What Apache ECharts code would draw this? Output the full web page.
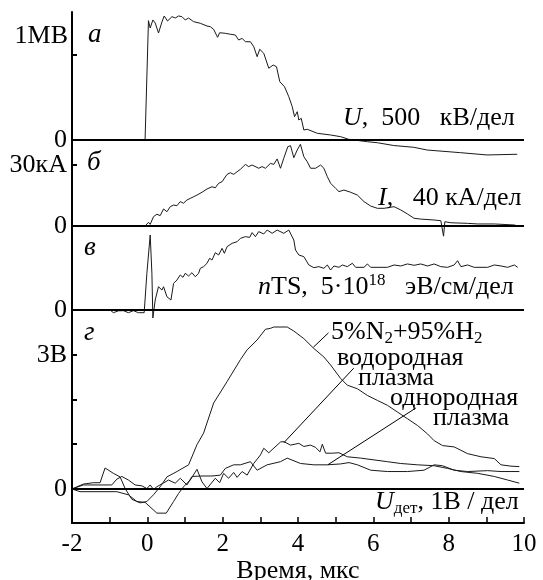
<!DOCTYPE html>
<html>
<head>
<meta charset="utf-8">
<script src="https://cdn.jsdelivr.net/npm/echarts@6/dist/echarts.min.js"></script>
<style>
html,body{margin:0;padding:0;background:#fff;}
#chart{width:543px;height:580px;}
</style>
</head>
<body>
<div id="chart"></div>
<script>
// ---------- DATA ----------
// time axis ticks (µs)
const timeTicks = [-2, 0, 2, 4, 6, 8, 10];

// panel а: voltage U, MV  [time µs, MV]
const voltageMV = [[-2,0],[-1.6,0.005],[-1.2,-0.005],[-0.8,0.005],[-0.4,0],[-0.06,0],
 [0.03,1.404],[0.076,1.318],[0.147,1.412],[0.209,1.376],[0.297,1.259],[0.387,1.388],[0.448,1.459],[0.536,1.40],
 [0.653,1.451],[0.741,1.435],[0.829,1.459],[0.919,1.451],[1.007,1.412],[1.095,1.435],[1.228,1.392],[1.406,1.373],
 [1.584,1.341],[1.672,1.333],[1.76,1.302],[1.866,1.208],[1.92,1.262],[2.071,1.255],[2.204,1.244],[2.337,1.235],
 [2.425,1.176],[2.516,1.196],[2.604,1.156],[2.737,1.156],[2.825,1.098],[2.915,0.98],[2.984,1.067],[3.091,1.02],
 [3.224,0.844],[3.341,0.882],[3.429,0.862],[3.517,0.686],[3.642,0.627],[3.756,0.509],[3.847,0.392],[3.908,0.274],
 [3.98,0.333],[4.022,0.235],[4.086,0.255],[4.155,0.118],[4.246,0.126],[4.512,0.079],[4.866,0.059],[5.132,0.039],
 [5.345,0.008],[5.842,-0.02],[6.108,-0.032],[6.542,-0.065],[7.074,-0.086],[7.43,-0.118],[8.31,-0.149],[9.02,-0.176],[9.82,-0.168]];

// panel б: current I, kA
const currentKA = [[-0.057,0],[0.03,1.8],[0.076,0.8],[0.164,4.6],[0.253,5.8],[0.342,5.1],[0.431,8.4],[0.52,7.0],
 [0.608,9.5],[0.697,10.3],[0.786,10.0],[0.874,12.0],[0.962,11.2],[1.052,12.8],[1.14,13.6],[1.228,14.4],[1.318,15.2],
 [1.451,16.6],[1.584,18.2],[1.717,19.3],[1.805,18.8],[1.893,21.0],[1.984,21.8],[2.117,25.4],[2.204,26.2],[2.292,25.4],
 [2.383,26.7],[2.471,27.9],[2.604,30.3],[2.691,29.2],[2.782,30.0],[2.957,28.4],[3.047,29.2],[3.135,28.4],[3.269,30.8],
 [3.357,30.3],[3.447,33.0],[3.535,28.4],[3.622,33.3],[3.729,39.0],[3.801,39.5],[3.889,33.6],[3.98,37.4],[4.064,40.2],
 [4.155,34.1],[4.246,31.6],[4.334,28.4],[4.467,28.4],[4.6,30.0],[4.687,28.4],[4.778,24.3],[4.866,21.0],[5.0,18.5],
 [5.087,16.9],[5.219,17.7],[5.398,16.6],[5.577,15.2],[5.752,12.0],[5.93,9.8],[6.108,8.7],[6.285,8.7],[6.55,9.5],
 [6.728,7.9],[6.906,5.9],[7.082,3.8],[7.26,3.4],[7.614,2.95],[7.792,2.6],[7.864,-5.0],[7.899,2.1],[8.058,1.6],
 [8.503,1.3],[8.769,1.0],[9.211,1.0],[9.743,0.5],[9.833,0]];

// panel в: nTS, arbitrary units (0..10)
const nTS = [[-0.989,0],[-0.901,-0.32],[-0.768,-0.1],[-0.635,-0.08],[-0.502,-0.32],[-0.369,-0.08],[-0.236,-0.32],
 [-0.084,-0.32],[-0.012,4.37],[0.076,8.93],[0.121,4.37],[0.147,-0.95],[0.209,1.19],[0.296,2.77],[0.387,2.38],
 [0.431,2.77],[0.52,1.58],[0.627,1.19],[0.697,3.17],[0.786,3.57],[0.874,4.17],[0.946,3.89],[1.007,4.37],[1.095,4.05],
 [1.185,4.44],[1.273,3.96],[1.361,4.37],[1.406,4.96],[1.494,5.16],[1.584,5.56],[1.653,6.15],[1.717,5.95],[1.805,6.82],
 [1.893,6.55],[1.984,7.34],[2.045,6.75],[2.117,7.54],[2.25,7.94],[2.383,8.13],[2.471,8.53],[2.604,8.73],[2.718,8.65],
 [2.782,9.21],[2.87,8.73],[2.957,9.33],[3.091,9.05],[3.181,9.52],[3.314,9.13],[3.447,9.52],[3.49,9.37],[3.622,9.13],
 [3.756,9.52],[3.889,8.33],[3.934,7.14],[4.022,6.55],[4.155,6.35],[4.288,5.36],[4.421,5.04],[4.554,5.16],[4.687,4.96],
 [4.778,5.36],[4.866,4.76],[4.954,5.24],[5.087,5.08],[5.177,5.36],[5.31,5.16],[5.443,5.56],[5.531,5.08],[5.752,5.08],
 [5.842,5.48],[5.93,5.08],[6.374,5.08],[6.55,5.36],[6.728,5.24],[6.906,5.48],[7.082,5.32],[7.26,5.48],[7.439,5.24],
 [7.614,5.48],[7.792,5.16],[7.97,5.08],[8.146,5.36],[8.237,5.87],[8.325,5.16],[8.503,5.36],[8.679,5.08],[9.035,5.08],
 [9.211,5.36],[9.389,5.24],[9.567,5.08],[9.743,5.36],[9.833,5.08]];

// panel г: detector voltage, V
const detN2H2 = [[-2,0],[-1.7,0.11],[-1.433,0.14],[-1.255,0.14],[-1.122,0.47],[-0.901,0.35],[-0.723,0.27],[-0.59,0.01],
 [-0.411,-0.23],[-0.191,-0.31],[-0.012,-0.28],[0.163,-0.13],[0.342,0.05],[0.52,0.27],[0.786,0.39],[1.095,0.54],
 [1.318,0.99],[1.494,1.25],[1.76,1.92],[2.117,2.40],[2.471,2.89],[2.649,3.11],[2.915,3.33],[3.136,3.57],[3.269,3.59],
 [3.357,3.62],[3.713,3.62],[3.889,3.53],[4.155,3.36],[4.421,3.14],[4.687,2.95],[4.866,2.77],[5.132,2.47],[5.31,2.32],
 [5.577,2.24],[5.842,2.09],[6.108,1.98],[6.374,1.87],[6.64,1.72],[6.906,1.57],[7.172,1.42],[7.439,1.23],[7.614,1.08],
 [7.838,0.97],[8.146,0.94],[8.503,0.79],[8.857,0.72],[9.211,0.68],[9.389,0.54],[9.655,0.51],[9.876,0.5]];
const detHydrogen = [[-2,0],[-1.787,-0.06],[-0.81,-0.06],[-0.502,-0.13],[-0.278,-0.28],[-0.057,-0.3],[0.254,-0.54],
 [0.501,-0.54],[0.696,-0.28],[0.829,-0.1],[0.962,0.05],[1.14,0.2],[1.318,0.44],[1.451,0.16],[1.584,0.01],[1.805,0.24],
 [1.92,0.14],[2.026,0.35],[2.159,0.24],[2.292,0.37],[2.383,0.26],[2.516,0.39],[2.649,0.31],[2.824,0.57],[3.003,0.76],
 [3.091,0.91],[3.224,0.81],[3.535,1.05],[3.622,1.06],[3.801,0.98],[4.022,1.02],[4.155,0.95],[4.333,0.98],[4.467,0.93],
 [4.582,0.83],[4.646,1.0],[4.733,0.8],[4.911,0.8],[5.087,0.81],[5.31,0.72],[5.664,0.69],[6.018,0.65],[6.374,0.61],
 [6.728,0.57],[7.172,0.54],[7.614,0.52],[7.97,0.46],[8.325,0.39],[8.769,0.35],[9.211,0.28],[9.567,0.2],[9.876,0.13]];
const detHomogeneous = [[-2,0],[-1.7,0.09],[-0.944,0.09],[-0.81,0.22],[-0.677,0.28],[-0.502,0.2],[-0.324,0.09],
 [-0.145,0.07],[-0.012,0.01],[0.076,0.09],[0.163,-0.01],[0.254,0.05],[0.563,0.2],[0.741,0.13],[0.874,0.24],[1.052,0.09],
 [1.185,0.28],[1.451,0.29],[1.717,0.29],[1.938,0.31],[2.071,0.46],[2.292,0.54],[2.471,0.54],[2.737,0.61],[2.915,0.42],
 [3.181,0.54],[3.535,0.61],[3.713,0.69],[4.067,0.57],[4.421,0.54],[4.778,0.54],[5.132,0.56],[5.354,0.59],[5.577,0.54],
 [5.93,0.42],[6.374,0.39],[6.906,0.39],[7.348,0.42],[7.614,0.54],[7.838,0.52],[8.146,0.42],[8.503,0.39],[9.035,0.41],
 [9.389,0.39],[9.876,0.39]];

// leader lines for panel г labels (data coords)
const leaderN2H2 = [[4.81,3.49],[4.41,3.17]];
const leaderHydrogen = [[5.48,2.70],[3.62,1.03]];
const leaderHomogeneous = [[7.13,1.81],[4.79,0.54]];

// ---------- CHART ----------
const FONT = 'Liberation Serif';
const chart = echarts.init(document.getElementById('chart'), null, {renderer:'canvas'});

const L = 72, R = 19;
const baseY = {
  type:'value', splitLine:{show:false},
  axisLine:{show:true, onZero:false, lineStyle:{color:'#000', width:2}},
};
const labelStyle = {color:'#000', fontFamily:FONT, fontSize:26, margin:5};
const zeroLine = {silent:true, symbol:'none', label:{show:false}, animation:false,
  lineStyle:{color:'#000', width:2, type:'solid'}, data:[{yAxis:0}]};
const lineSeries = (data, xi, extra) => Object.assign({
  type:'line', data, xAxisIndex:xi, yAxisIndex:xi, showSymbol:false, symbol:'none',
  lineStyle:{color:'#1a1a1a', width:1}, z:3, animation:false
}, extra || {});
const leader = (pts) => [{coord:pts[0]},{coord:pts[1]}];

const hiddenX = i => ({gridIndex:i, type:'value', min:-2, max:10, show:false});
const gridBox = (top, height) => ({left:L, right:R, top, height, containLabel:false, outerBoundsMode:'none'});

const FS = 26;
const richBase = {
  n:{fontFamily:FONT, fontSize:FS, lineHeight:30, color:'#000'},
  i:{fontFamily:FONT, fontSize:FS, fontStyle:'italic', lineHeight:30, color:'#000'},
  sub:{fontFamily:FONT, fontSize:17, lineHeight:14, verticalAlign:'bottom', color:'#000'},
  sup:{fontFamily:FONT, fontSize:17, lineHeight:14, verticalAlign:'top', color:'#000'}
};
const txt = (x, y, text, align) => ({
  type:'text', x, y, z:10,
  style:{text, rich:richBase, fill:'#000', font:FS + 'px "' + FONT + '"',
    textAlign:align||'left', textVerticalAlign:'middle', align:align||'left', verticalAlign:'middle'}
});
const ital = (x, y, text) => ({
  type:'text', x, y, z:10,
  style:{text, fill:'#000', font:'italic 27px "' + FONT + '"', textAlign:'left', textVerticalAlign:'middle', align:'left', verticalAlign:'middle'}
});

const option = {
  backgroundColor:'#fff',
  animation:false,
  grid:[gridBox(12,148), gridBox(140,100), gridBox(226,94), gridBox(310,213)],
  xAxis:[hiddenX(0), hiddenX(1), hiddenX(2), {
    gridIndex:3, type:'value', min:-2, max:10, interval:1,
    axisLine:{show:true, onZero:false, lineStyle:{color:'#000', width:2}},
    axisTick:{show:true, inside:true, length:6, lineStyle:{color:'#000', width:1.5}},
    axisLabel:{color:'#000', fontFamily:FONT, fontSize:25, margin:9,
      formatter: v => timeTicks.indexOf(v) >= 0 ? String(v) : ''},
    splitLine:{show:false},
    name:'Время, мкс', nameLocation:'middle', nameGap:31,
    nameTextStyle:{color:'#000', fontFamily:FONT, fontSize:26}
  }],
  yAxis:[
    Object.assign({}, baseY, {gridIndex:0, min:-20/85, max:128/85,
      axisTick:{show:true, inside:true, length:5, customValues:[1], lineStyle:{color:'#000', width:2}},
      axisLabel:Object.assign({}, labelStyle, {customValues:[0], formatter:()=> '0'})}),
    Object.assign({}, baseY, {gridIndex:1, min:-14/2.033, max:86/2.033,
      axisTick:{show:true, inside:true, length:5, customValues:[30], lineStyle:{color:'#000', width:2}},
      axisLabel:Object.assign({}, labelStyle, {customValues:[0,30], formatter:v=> v===30 ? '30кА' : '0'})}),
    Object.assign({}, baseY, {gridIndex:2, min:-10/8.4, max:10,
      axisTick:{show:false},
      axisLabel:Object.assign({}, labelStyle, {customValues:[0], formatter:()=> '0'})}),
    Object.assign({}, baseY, {gridIndex:3, min:-0.76, max:4,
      axisTick:{show:true, inside:true, length:5, customValues:[1,2,3], lineStyle:{color:'#000', width:2}},
      axisLabel:Object.assign({}, labelStyle, {customValues:[0,3], formatter:v=> v===3 ? '3В' : '0'})})
  ],
  series:[
    lineSeries(voltageMV, 0, {markLine:zeroLine}),
    lineSeries(currentKA, 1, {markLine:zeroLine}),
    lineSeries(nTS, 2, {markLine:zeroLine}),
    lineSeries(detN2H2, 3, {markLine:Object.assign({}, zeroLine, {data:[{yAxis:0}]})}),
    lineSeries(detHydrogen, 3),
    lineSeries(detHomogeneous, 3, {markLine:{silent:true, symbol:'none', label:{show:false},
      lineStyle:{color:'#000', width:1, type:'solid'},
      data:[leader(leaderN2H2), leader(leaderHydrogen), leader(leaderHomogeneous)]}})
  ],
  graphic:[
    txt(68, 36, '{n|1МВ}', 'right'),
    ital(88, 35, 'а'),
    ital(87, 163, 'б'),
    ital(84, 248, 'в'),
    ital(84, 333, 'г'),
    txt(343, 118, '{i|U}{n|,  500   кВ/дел}'),
    txt(378, 198, '{i|I}{n|,   40 кА/дел}'),
    txt(258, 287, '{i|n}{n|TS,  5·10}{sup|18}{n|   эВ/см/дел}'),
    txt(331, 332, '{n|5%N}{sub|2}{n|+95%H}{sub|2}'),
    txt(337, 358, '{n|водородная}'),
    txt(358, 378, '{n|плазма}'),
    txt(390, 398, '{n|однородная}'),
    txt(433, 418, '{n|плазма}'),
    txt(375, 502, '{i|U}{sub|дет}{n|, 1В / дел}')
  ]
};
chart.setOption(option);
</script>
</body>
</html>
